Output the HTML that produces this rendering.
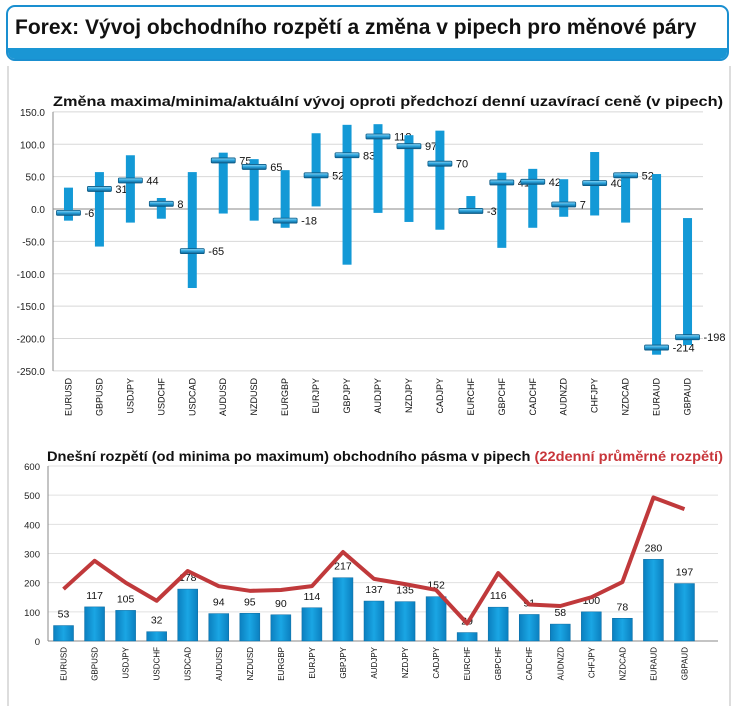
<!DOCTYPE html>
<html><head><meta charset="utf-8"><style>
body{margin:0;width:735px;height:694px;background:#fff;font-family:"Liberation Sans",Arial,sans-serif;overflow:hidden;position:relative}
#hdr{position:absolute;left:6px;top:5px;width:719px;height:52px;border:2px solid #1a8fd0;border-radius:9px;overflow:hidden;background:#fff}
#hdr .band{position:absolute;left:0;right:0;bottom:0;height:11px;background:#1a96d4}
#hdr .t{position:absolute;left:7px;top:9px;font-size:21px;font-weight:bold;color:#111;white-space:nowrap}
#panel{position:absolute;left:7px;top:66px;width:720px;height:640px;border-left:2px solid #ddd;border-right:2px solid #ddd}
svg{position:absolute;left:0;top:0}
</style></head><body>
<div id="hdr"><div class="band"></div><div class="t">Forex: Vývoj obchodního rozpětí a změna v pipech pro měnové páry</div></div>
<div id="panel"></div>
<svg id="c" width="735" height="694">
<defs>
<linearGradient id="mk" x1="0" y1="0" x2="0" y2="1"><stop offset="0" stop-color="#8fd6f5"/><stop offset="0.5" stop-color="#2aa3dc"/><stop offset="1" stop-color="#0d5f8f"/></linearGradient>
<linearGradient id="bg" x1="0" y1="0" x2="1" y2="0"><stop offset="0" stop-color="#0b7fbf"/><stop offset="0.5" stop-color="#1aa6e4"/><stop offset="1" stop-color="#0b7fbf"/></linearGradient>
</defs>
<text x="53" y="106" font-size="14" font-weight="bold" fill="#111" textLength="670" lengthAdjust="spacingAndGlyphs">Změna maxima/minima/aktuální vývoj oproti předchozí denní uzavírací ceně (v pipech)</text>
<text x="47" y="461" font-size="14" font-weight="bold" fill="#111" textLength="676" lengthAdjust="spacingAndGlyphs">Dnešní rozpětí (od minima po maximum) obchodního pásma v pipech <tspan fill="#c8353a">(22denní průměrné rozpětí)</tspan></text>
</svg>
<script>
const pairs=["EURUSD","GBPUSD","USDJPY","USDCHF","USDCAD","AUDUSD","NZDUSD","EURGBP","EURJPY","GBPJPY","AUDJPY","NZDJPY","CADJPY","EURCHF","GBPCHF","CADCHF","AUDNZD","CHFJPY","NZDCAD","EURAUD","GBPAUD"];
const highs=[33,57,83,17,57,87,77,60,117,130,131,114,121,20,56,62,46,88,57,54,-14];
const lows=[-18,-58,-21,-15,-122,-7,-18,-29,4,-86,-6,-20,-32,-7,-60,-29,-12,-10,-21,-225,-210];
const current=[-6,31,44,8,-65,75,65,-18,52,83,112,97,70,-3,41,42,7,40,52,-214,-198];
const topTicks=[150,100,50,0,-50,-100,-150,-200,-250];
const ranges=[53,117,105,32,178,94,95,90,114,217,137,135,152,29,116,91,58,100,78,280,197];
const avg22=[178,275,200,138,240,188,172,175,188,305,213,195,175,60,233,125,120,150,202,492,452];
const botTicks=[0,100,200,300,400,500,600];

const svg=document.getElementById('c');const NS='http://www.w3.org/2000/svg';
function el(t,a,txt){const e=document.createElementNS(NS,t);for(const k in a)e.setAttribute(k,a[k]);if(txt!==undefined)e.textContent=txt;svg.appendChild(e);return e;}
const tL=53,tR=703,n=pairs.length;
const tx=i=>tL+(i+0.5)*(tR-tL)/n;
const ty=v=>209-(v)*259/400;
topTicks.forEach(v=>{
 const g=el('line',{x1:tL,x2:tR,y1:ty(v),y2:ty(v),stroke:v===0?'#888':'#d8d8d8','stroke-width':1});
 
 const t=el('text',{x:tL-8,y:ty(v)+4,'font-size':10,'text-anchor':'end',fill:'#222'},v.toFixed(1));
 
});
let a=el('line',{x1:tL,x2:tL,y1:ty(150),y2:ty(-250),stroke:'#888'});

pairs.forEach((p,i)=>{
 const x=tx(i);
 const r=el('rect',{x:x-4.5,y:ty(highs[i]),width:9,height:ty(lows[i])-ty(highs[i]),fill:'#1399d6'});
 
 const m=el('rect',{x:x-12,y:ty(current[i])-2.5,width:24,height:5,fill:'url(#mk)',stroke:'#0a5a85','stroke-width':0.8,rx:1});
 
 const l=el('text',{x:x+16,y:ty(current[i])+4,'font-size':11,fill:'#111'},String(current[i]));
 
 const c=el('text',{x:0,y:0,'font-size':9,'text-anchor':'end',fill:'#111',transform:`translate(${x+3},378) rotate(-90)`},p);
 
});
const bL=48,bR=700;
const bx=i=>bL+(i+0.5)*(bR-bL)/n;
const by=v=>641-v*175/600;
botTicks.forEach(v=>{
 if(v>0){const g=el('line',{x1:bL,x2:718,y1:by(v),y2:by(v),stroke:'#e0e0e0'});
 }
 const t=el('text',{x:bL-8,y:by(v)+4,'font-size':9.5,'text-anchor':'end',fill:'#222'},String(v));
 
});
a=el('line',{x1:bL,x2:bL,y1:by(600),y2:by(0),stroke:'#888'});
a=el('line',{x1:bL,x2:718,y1:by(0),y2:by(0),stroke:'#888'});
pairs.forEach((p,i)=>{
 const x=bx(i);
 const r=el('rect',{x:x-10,y:by(ranges[i]),width:20,height:by(0)-by(ranges[i]),fill:'url(#bg)',stroke:'#0a6aa0','stroke-width':0.5});
 
 const l=el('text',{x:x,y:by(ranges[i])-8,'font-size':10.5,'text-anchor':'middle',fill:'#111'},String(ranges[i]));
 
 const c=el('text',{x:0,y:0,'font-size':8,'text-anchor':'end',fill:'#111',transform:`translate(${x+3},647) rotate(-90)`},p);
 
});
const pl=el('polyline',{points:avg22.map((v,i)=>bx(i)+','+by(v)).join(' '),fill:'none',stroke:'#c0393b','stroke-width':4,'stroke-linejoin':'round'});

</script>
</body></html>
